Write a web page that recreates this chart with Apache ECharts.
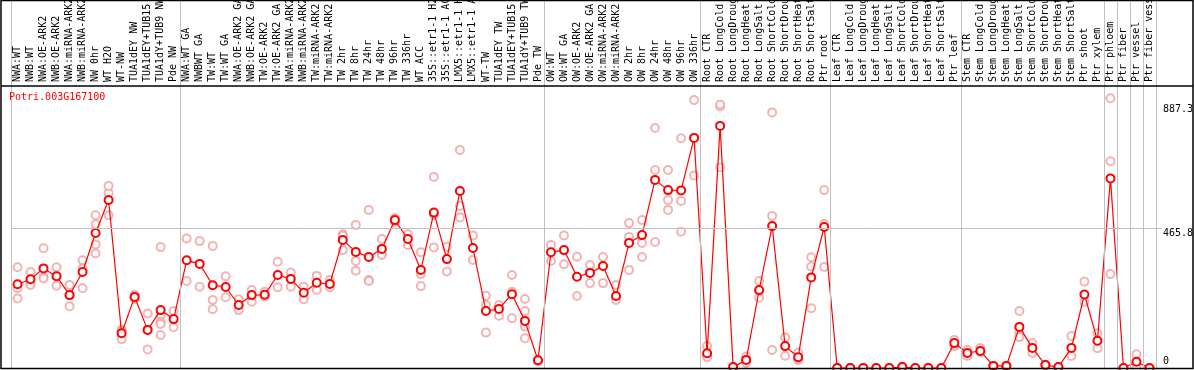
<!DOCTYPE html>
<html>
<head>
<meta charset="utf-8">
<script src="https://cdn.jsdelivr.net/npm/echarts@6/dist/echarts.min.js"></script>
<style>
html,body{margin:0;padding:0;background:#fff;}
#chart{width:1194px;height:370px;}
</style>
</head>
<body>
<div id="chart"></div>
<script>
const geneName = 'Potri.003G167100';

const categories = [
  'NWA:WT','NWB:WT','NWA:OE-ARK2','NWB:OE-ARK2','NWA:miRNA-ARK2','NWB:miRNA-ARK2','NW 0hr','WT H2O','WT-NW','TUA1dEY NW','TUA1dEY+TUB15 NW','TUA1dY+TUB9 NW','Pde NW',
  'NWA:WT GA','NWBWT GA','TW:WT','TW:WT GA','NWA:OE-ARK2 GA','NWB:OE-ARK2 GA','TW:OE-ARK2','TW:OE-ARK2 GA','NWA:miRNA-ARK2 GA','NWB:miRNA-ARK2 GA','TW:miRNA-ARK2','TW:miRNA-ARK2 GA',
  'TW 2hr','TW 8hr','TW 24hr','TW 48hr','TW 96hr','TW 336hr','WT ACC','35S::etr1-1 H2O','35S::etr1-1 ACC','LMX5::etr1-1 H2O','LMX5::etr1-1 ACC','WT-TW','TUA1dEY TW','TUA1dEY+TUB15 TW','TUA1dY+TUB9 TW','Pde TW',
  'OW:WT','OW:WT GA','OW:OE-ARK2','OW:OE-ARK2 GA','OW:miRNA-ARK2','OW:miRNA-ARK2 GA','OW 2hr','OW 8hr','OW 24hr','OW 48hr','OW 96hr','OW 336hr',
  'Root CTR','Root LongCold','Root LongDrought','Root LongHeat','Root LongSalt','Root ShortCold','Root ShortDrought','Root ShortHeat','Root ShortSalt','Ptr root',
  'Leaf CTR','Leaf LongCold','Leaf LongDrought','Leaf LongHeat','Leaf LongSalt','Leaf ShortCold','Leaf ShortDrought','Leaf ShortHeat','Leaf ShortSalt','Ptr leaf',
  'Stem CTR','Stem LongCold','Stem LongDrought','Stem LongHeat','Stem LongSalt','Stem ShortCold','Stem ShortDrought','Stem ShortHeat','Stem ShortSalt','Ptr shoot','Ptr xylem',
  'Ptr phloem','Ptr fiber','Ptr vessel','Ptr fiber vessel'
];

const meanValues = [
  279,296,332,306,243,320,450,560,116,237,127,193,163,
  359,347,276,270,210,243,244,310,297,251,284,280,
  427,387,370,397,493,430,327,518,363,590,400,190,197,246,157,26,
  386,393,304,317,340,240,417,443,627,593,592,767,
  49,807,3,27,260,473,73,36,302,470,
  0,0,0,0,0,3,0,0,0,83,
  50,57,7,7,137,67,10,3,67,245,91,
  632,0,21,0
];

const replicateValues = [
  [336,266,232],[320,282,277],[399,302,299],[336,306,274],[277,243,206],[359,332,266],[509,479,412,382],[509,583,607],[127,96,124],[230,244,237],[182,62,127],[403,177,154,147,110],[190,136],
  [432,290],[423,271],[407,227,196],[306,236],[229,193],[260,221],[254,238],[354,269],[318,271],[271,229],[307,260],[293,269],
  [446,393,441],[477,357,324],[527,293,290],[430,382,377],[493,500,487],[446,410],[386,313,273],[637,510,402],[404,322],[727,540,502],[442,360],[241,210,118],[210,174],[310,254,166],[230,190,138,99],[26,22],
  [410,357],[442,346],[371,240],[343,283],[370,283],[277,227],[483,437,327],[493,417,370],[800,660,420],[660,560,527],[766,557,454],[893,642],
  [73,41,36],[872,878,669],[3,2],[38,27,17],[290,234,257],[852,507,60],[102,41],[51,27,30],[369,338,199],[593,480,337],
  [0,0],[0,0],[0,0],[0,0],[0,0],[5,2],[0,0],[0,0],[0,0],[93,73],
  [60,40],[67,53],[7,5],[7,5],[190,117,103],[83,50],[10,12],[3,2],[107,40],[288,221],[116,66],
  [899,689,313],[0,0],[46,0],[0,0]
];

const yTickValues = [0, 465.8, 887.3];
const gridLineValues = [465.8];
const groupBoundaries = [0, 13, 41, 53, 63, 73, 84, 85, 86, 87, 88];
const yMax = 940;

const FONT = 'DejaVu Sans Mono';
const chart = echarts.init(document.getElementById('chart'), null, {renderer: 'canvas'});

const replicatePoints = [];
replicateValues.forEach((reps, i) => reps.forEach(v => replicatePoints.push([i, v])));

const option = {
  animation: false,
  backgroundColor: '#ffffff',
  title: {
    text: geneName, left: 9, top: 92, padding: 0,
    textStyle: {color: '#ff0000', fontFamily: FONT, fontSize: 10, fontWeight: 'normal'}
  },
  grid: [
    {left: 11, right: 38, top: 0, bottom: 2, outerBoundsMode: 'none'},
    {left: 11, right: 38, top: 86, bottom: 2, outerBoundsMode: 'none'}
  ],
  xAxis: [
    {type: 'value', gridIndex: 0, min: 0, max: categories.length, show: false},
    {type: 'category', gridIndex: 1, position: 'top', data: categories, boundaryGap: true,
     axisLine: {show: false}, axisTick: {show: false}, splitLine: {show: false},
     axisLabel: {interval: 0, rotate: 90, margin: 4, color: '#000', fontFamily: FONT, fontSize: 10}}
  ],
  yAxis: [
    {type: 'value', gridIndex: 0, min: 0, max: 1, show: false},
    {type: 'value', gridIndex: 1, min: 0, max: yMax, show: false}
  ],
  series: [
    {
      type: 'line', xAxisIndex: 0, yAxisIndex: 0, data: [[0, 0]], symbol: 'none',
      lineStyle: {opacity: 0}, silent: true, z: 1,
      markLine: {
        silent: true, symbol: ['none', 'none'], label: {show: false},
        lineStyle: {color: '#c0c0c0', type: 'solid', width: 1},
        data: groupBoundaries.map(b => ({xAxis: b}))
      }
    },
    {
      type: 'scatter', xAxisIndex: 1, yAxisIndex: 1, data: replicatePoints,
      symbol: 'emptyCircle', symbolSize: 8, z: 3,
      itemStyle: {color: '#f0a0a0', borderColor: '#f09090', borderWidth: 1.2}
    },
    {
      type: 'line', xAxisIndex: 1, yAxisIndex: 1, data: meanValues,
      symbol: 'emptyCircle', symbolSize: 8, z: 4,
      lineStyle: {color: '#ff0000', width: 1.2},
      itemStyle: {color: '#ff0000', borderColor: '#ee0000', borderWidth: 1.8},
      markLine: {
        silent: true, symbol: ['none', 'none'], label: {show: false},
        lineStyle: {color: '#c0c0c0', type: 'solid', width: 1},
        data: gridLineValues.map(v => ({yAxis: v}))
      }
    }
  ]
};
chart.setOption(option);

const graphics = [
  {type: 'rect', shape: {x: 1, y: 0.5, width: 1192, height: 368}, style: {fill: null, stroke: '#000', lineWidth: 1.5}, silent: true, z: 100},
  {type: 'line', shape: {x1: 1, y1: 86, x2: 1193, y2: 86}, style: {stroke: '#000', lineWidth: 1.5}, silent: true, z: 100}
];
gridLineValues.forEach(v => {
  const py = Math.round(chart.convertToPixel({yAxisIndex: 1}, v)) + 0.5;
  const px = chart.convertToPixel({xAxisIndex: 0}, categories.length);
  graphics.push({type: 'line', shape: {x1: px, y1: py, x2: px + 6, y2: py}, style: {stroke: '#c0c0c0', lineWidth: 1}, silent: true, z: 2});
});
yTickValues.forEach(v => {
  const py = chart.convertToPixel({yAxisIndex: 1}, v);
  graphics.push({
    type: 'text', x: 1163, y: v === 0 ? py - 2 : py + (v > 800 ? 3 : 0), silent: true, z: 100,
    style: {text: String(v), fill: '#000', font: '10px ' + FONT, textVerticalAlign: v === 0 ? 'bottom' : 'top', textAlign: 'left'}
  });
});
chart.setOption({graphic: graphics});
</script>
</body>
</html>
